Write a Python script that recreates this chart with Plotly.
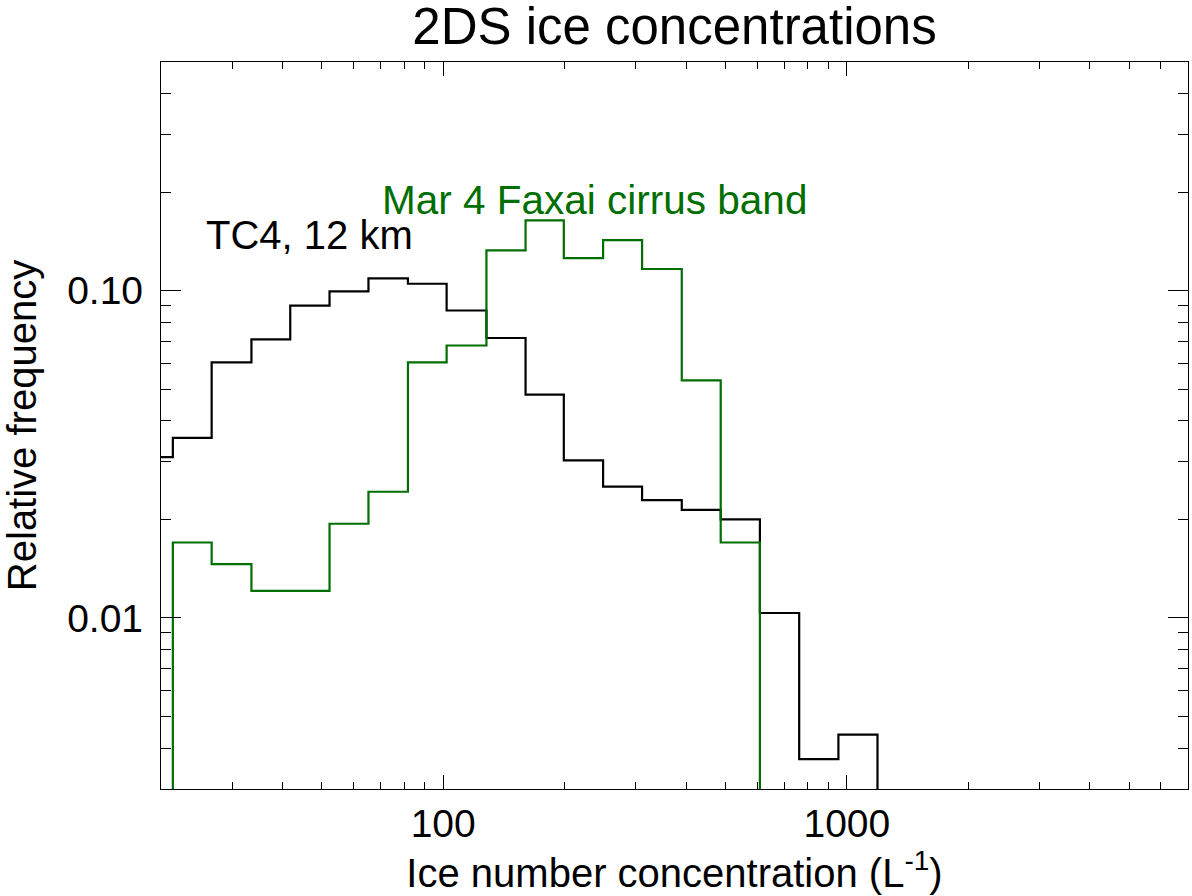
import plotly.graph_objects as go

# Bin edges of the concentration histogram (L^-1)
bin_edges = [17.1, 21.4, 26.7, 33.5, 41.8, 52.3, 65.3, 81.8, 102, 128, 160,
             199, 249, 311, 390, 487, 609, 762, 953, 1191, 1490]

# Relative frequency per bin (values of 1e-4 stand for empty bins, below the axis floor)
tc4_freq = [0.031, 0.0355, 0.0604, 0.0710, 0.0900, 0.0995, 0.109, 0.105, 0.087,
            0.0717, 0.0481, 0.0303, 0.0252, 0.0229, 0.0214, 0.0200, 0.01035,
            0.0037, 0.0044, 1e-4]
faxai_freq = [1e-4, 0.0170, 0.0146, 0.0121, 0.0121, 0.0194, 0.0243, 0.0604,
              0.0680, 0.1328, 0.164, 0.1258, 0.1428, 0.1165, 0.0532, 0.0170,
              1e-4, 1e-4, 1e-4, 1e-4]

x_tickvals = [100, 1000]
x_ticktext = ["100", "1000"]
y_tickvals = [0.01, 0.1]
y_ticktext = ["0.01", "0.10"]

GREEN = "rgb(0,110,0)"
FONT = "Liberation Sans, Arial, Helvetica, sans-serif"


def step_xy(edges, vals):
    return list(edges), list(vals) + [vals[-1]]


fig = go.Figure()
for vals, color in [(tc4_freq, "black"), (faxai_freq, GREEN)]:
    xs, ys = step_xy(bin_edges, vals)
    fig.add_trace(go.Scatter(x=xs, y=ys, mode="lines", line=dict(shape="hv", color=color, width=2.2),
                             showlegend=False, hoverinfo="skip"))

x_minor = [m * 10 ** k for k in (1, 2, 3) for m in range(2, 10) if 20 <= m * 10 ** k <= 7000]
y_minor = [m * 10 ** k for k in (-3, -2, -1) for m in range(2, 10) if 0.003 <= m * 10 ** k <= 0.5]

common = dict(showgrid=False, zeroline=False, showline=True, linecolor="black", linewidth=1.3,
              mirror="allticks", ticks="inside", tickcolor="black", tickwidth=1,
              tickfont=dict(family=FONT, size=39, color="black"))

fig.update_xaxes(type="log", range=[1.30103, 3.845098], tickmode="array",
                 tickvals=x_tickvals, ticktext=x_ticktext, ticklen=14,
                 minor=dict(tickmode="array", tickvals=x_minor, ticks="inside", ticklen=7,
                            tickcolor="black", tickwidth=1),
                 title=dict(text="Ice number concentration (L<sup>-1</sup>)",
                            font=dict(family=FONT, size=40, color="black"), standoff=1),
                 **common)
fig.update_yaxes(type="log", range=[-2.522879, -0.30103], tickmode="array",
                 tickvals=y_tickvals, ticktext=y_ticktext, ticklen=20, ticklabelstandoff=9,
                 minor=dict(tickmode="array", tickvals=y_minor, ticks="inside", ticklen=10,
                            tickcolor="black", tickwidth=1),
                 title=dict(text="Relative frequency",
                            font=dict(family=FONT, size=40, color="black"), standoff=18),
                 **common)

fig.add_annotation(text="TC4, 12 km", xref="paper", yref="paper", x=0.042, y=0.762,
                   xanchor="left", yanchor="middle", showarrow=False,
                   font=dict(family=FONT, size=40, color="black"))
fig.add_annotation(text="Mar 4 Faxai cirrus band", xref="paper", yref="paper", x=0.213, y=0.810,
                   xanchor="left", yanchor="middle", showarrow=False,
                   font=dict(family=FONT, size=40.5, color=GREEN))

fig.update_layout(
    width=1192, height=896,
    margin=dict(l=161, r=4, t=62, b=107, autoexpand=False),
    paper_bgcolor="white", plot_bgcolor="white",
    title=dict(text="2DS ice concentrations", x=0.5, xref="paper", xanchor="center",
               y=0.971, yref="container", yanchor="middle",
               font=dict(family=FONT, size=51, color="black")),
)

fig.write_html("out.html", config={"displayModeBar": False},
               post_script="document.body.style.margin='0px';")
